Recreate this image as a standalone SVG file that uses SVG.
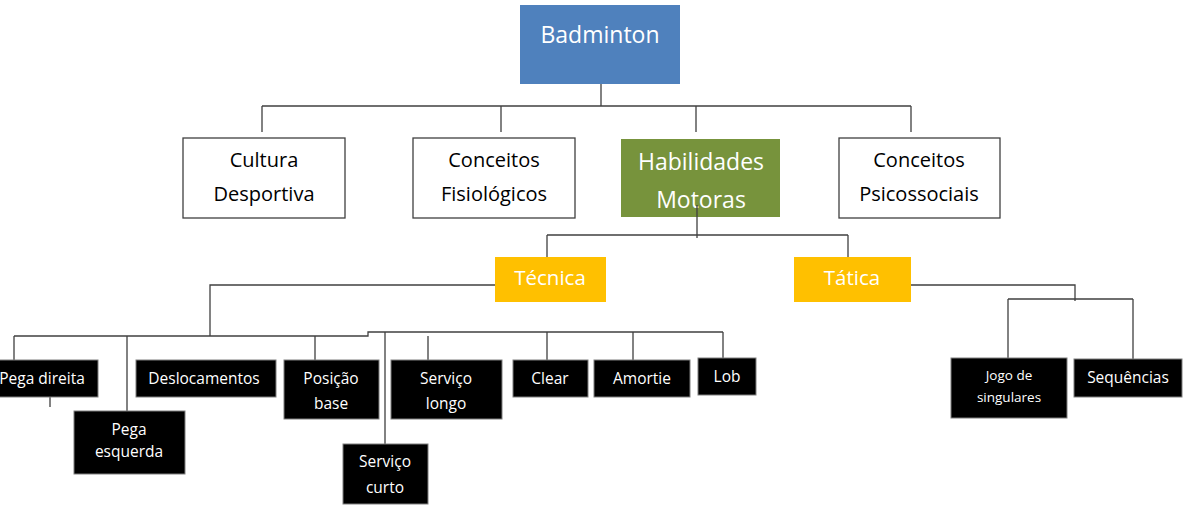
<svg xmlns="http://www.w3.org/2000/svg" width="1185" height="518" viewBox="0 0 1185 518">
<style>
.t{font-family:"Open Sans","Liberation Sans",sans-serif;text-anchor:middle}
.w{fill:#fff}
.k{fill:#000}
.conn{fill:none;stroke:#404040;stroke-width:1.3}
.wb{fill:#fff;stroke:#404040;stroke-width:1.3}
.bb{fill:#000;stroke:#7f7f7f;stroke-width:1}
.s1{font-size:23px}
.s2{font-size:20px}
.s3{font-size:20.5px}
.s4{font-size:15.5px}
.s5{font-size:13.5px}
</style>
<rect width="1185" height="518" fill="#fff"/>
<g id="connectors" class="conn">
<path d="M601 78V106M262 106H911M262 106V132M501 106V132M696 106V132M911 106V132"/>
<path d="M697 205V238M547 235H848M547 235V257M848 235V257"/>
<path d="M495 285H210V336M14 336H368V332H723M14 336V360M127 336V411M315 336V360M385 332V444M428 336V360M547 332V360M633 332V360M723 332V358M50 397V407"/>
<path d="M911 285H1075V301M1008 299H1133M1008 299V358M1133 299V360"/>
</g>
<g id="badminton"><rect x="520" y="5" width="160" height="79" fill="#4f81bd"/><text class="t w s1" x="600" y="43">Badminton</text></g>
<g id="cultura"><rect class="wb" x="183" y="138" width="162" height="80"/><text class="t k s2" x="264" y="167">Cultura</text><text class="t k s2" x="264" y="201">Desportiva</text></g>
<g id="fisiologicos"><rect class="wb" x="413" y="138" width="162" height="80"/><text class="t k s2" x="494" y="167">Conceitos</text><text class="t k s2" x="494" y="201">Fisiológicos</text></g>
<g id="habilidades"><rect x="621" y="139" width="159" height="78" fill="#77933c"/><text class="t w s1" x="701" y="170">Habilidades</text><text class="t w s1" x="701" y="208">Motoras</text><line x1="697" y1="205" x2="697" y2="217" stroke="#404040" stroke-width="1.3"/></g>
<g id="psicossociais"><rect class="wb" x="839" y="138" width="161" height="80"/><text class="t k s2" x="919" y="167">Conceitos</text><text class="t k s2" x="919" y="201">Psicossociais</text></g>
<g id="tecnica"><rect x="495" y="257" width="111" height="45" fill="#ffc000"/><text class="t w s3" x="550" y="285">Técnica</text></g>
<g id="tatica"><rect x="794" y="257" width="117" height="45" fill="#ffc000"/><text class="t w s3" x="852" y="285">Tática</text></g>
<g id="pega-direita"><rect class="bb" x="-14" y="360" width="112" height="37"/><text class="t w s4" x="42" y="384">Pega direita</text></g>
<g id="pega-esquerda"><rect class="bb" x="74" y="411" width="111" height="63"/><text class="t w s4" x="129" y="435">Pega</text><text class="t w s4" x="129" y="457">esquerda</text></g>
<g id="deslocamentos"><rect class="bb" x="136" y="360" width="140" height="37"/><text class="t w s4" x="204" y="384">Deslocamentos</text></g>
<g id="posicao-base"><rect class="bb" x="284" y="360" width="95" height="59"/><text class="t w s4" x="331" y="384">Posição</text><text class="t w s4" x="331" y="409">base</text></g>
<g id="servico-curto"><rect class="bb" x="343" y="444" width="85" height="60"/><text class="t w s4" x="385" y="467">Serviço</text><text class="t w s4" x="385" y="493">curto</text></g>
<g id="servico-longo"><rect class="bb" x="391" y="360" width="111" height="59"/><text class="t w s4" x="446" y="384">Serviço</text><text class="t w s4" x="446" y="409">longo</text></g>
<g id="clear"><rect class="bb" x="513" y="360" width="75" height="37"/><text class="t w s4" x="550" y="384">Clear</text></g>
<g id="amortie"><rect class="bb" x="594" y="360" width="96" height="37"/><text class="t w s4" x="642" y="384">Amortie</text></g>
<g id="lob"><rect class="bb" x="698" y="358" width="58" height="37"/><text class="t w s4" x="727" y="382">Lob</text></g>
<g id="jogo-singulares"><rect class="bb" x="951" y="358" width="116" height="60"/><text class="t w s5" x="1009" y="380">Jogo de</text><text class="t w s5" x="1009" y="402">singulares</text></g>
<g id="sequencias"><rect class="bb" x="1074" y="359" width="108" height="38"/><text class="t w s4" x="1128" y="383">Sequências</text></g>
</svg>
